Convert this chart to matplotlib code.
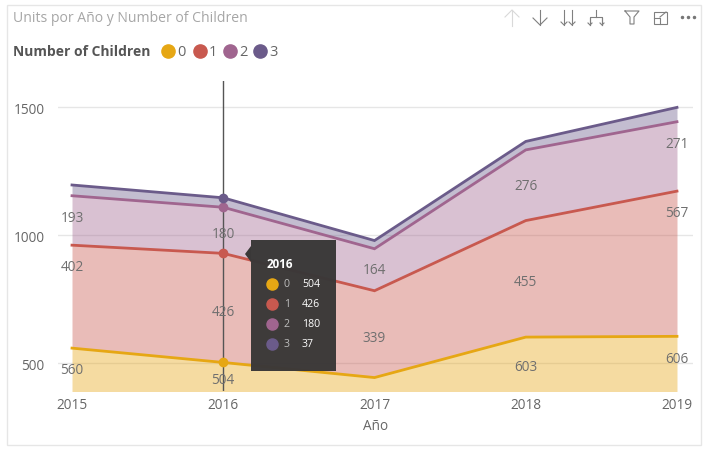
import matplotlib
matplotlib.use("Agg")
import numpy as np
import matplotlib.pyplot as plt
from matplotlib.patches import Rectangle, Polygon

plt.rcParams['font.family'] = ['Open Sans', 'DejaVu Sans']

years = [2015, 2016, 2017, 2018, 2019]
children = ['0', '1', '2', '3']
units_0 = [560, 504, 445, 603, 606]
units_1 = [402, 426, 339, 455, 567]
units_2 = [193, 180, 164, 276, 271]
units_3 = [42, 37, 32, 33, 56]
colors = ['#E6A714', '#C8594F', '#A0658F', '#6B5B8A']

# where the labels sit (not at the band centre in the original)
label_y_0 = [476, 437, None, 490, 521]
label_y_1 = [878, 703, 603, 822, 1090]
label_y_2 = [1070, 1008, 867, 1195, 1359]

W, H = 706, 452
GREY = '#666666'
fig = plt.figure(figsize=(W / 100, H / 100), dpi=100)

# plot area in pixels
left, right, top, bottom = 58, 693, 81.5, 391.5
ax = fig.add_axes([left / W, 1 - bottom / H, (right - left) / W, (bottom - top) / H])
ax.set_xlim(2015 - 14 / 151.25, 2019 + 16 / 151.25)
ax.set_ylim(394.5, 1605)
for s in ax.spines.values():
    s.set_visible(False)
ax.set_xticks(years)
ax.set_yticks([500, 1000, 1500])
ax.tick_params(length=0, labelsize=9.8, labelcolor=GREY)
ax.tick_params(axis='y', pad=9.5)
ax.tick_params(axis='x', pad=5)
ax.grid(axis='y', color='#e6e6e6', lw=1)
ax.set_axisbelow(True)
ax.set_xlabel('Año', fontsize=9.8, color=GREY, labelpad=4)

series = [units_0, units_1, units_2, units_3]
base = np.zeros(len(years))
for vals, c in zip(series, colors):
    cum = base + np.array(vals)
    ax.fill_between(years, base, cum, color=c, alpha=0.4, lw=0, zorder=1)
    base = cum
base = np.zeros(len(years))
for vals, c in zip(series, colors):
    base = base + np.array(vals)
    ax.plot(years, base, color=c, lw=2, zorder=3, solid_joinstyle='miter')
    ax.plot(years[1], base[1], 'o', color=c, ms=6, zorder=5)
ax.axvline(2016, color='#555555', lw=1, zorder=4)

for vals, ys in zip(series[:3], [label_y_0, label_y_1, label_y_2]):
    for x, v, y in zip(years, vals, ys):
        if y is not None:
            ax.text(x, y, str(v), ha='center', va='center', fontsize=9.8, color='#6f6f6f', zorder=6)

# full figure overlay in pixels: card, title, legend, toolbar, tooltip
ov = fig.add_axes([0, 0, 1, 1], facecolor='none')
ov.set_xlim(0, W)
ov.set_ylim(H, 0)
ov.axis('off')
ov.add_patch(Rectangle((6.5, 5.5), 694, 440, fill=False, ec='#e6e6e6', lw=1))
ov.text(13, 18, 'Units por Año y Number of Children', fontsize=10.1, color='#a6a6a6', va='center')
ov.text(13, 52, 'Number of Children', fontsize=10, color='#555555', va='center', fontweight='bold')
for x, name, c in zip([168, 200, 230, 260], children, colors):
    ov.plot(x, 52, 'o', color=c, ms=9.5)
    ov.text(x + 9, 52, name, fontsize=10.5, color=GREY, va='center')

# toolbar icons
def icon(xs, ys, c='#808080', lw=0.8):
    ov.plot(xs, ys, color=c, lw=lw)

def arrow_down(x, y0, y1, w=6, c='#808080'):
    icon([x, x], [y0, y1], c)
    icon([x - w, x, x + w], [y1 - w, y1, y1 - w], c)

icon([512, 512], [11, 27], '#d9d9d9')
icon([505, 512, 519], [18, 11, 18], '#d9d9d9')
arrow_down(540, 11, 26, 7)
arrow_down(564, 11, 26, 3)
arrow_down(572, 11, 26, 3)
icon([596, 596], [11, 18])
icon([590, 590, 602, 602], [26, 18, 18, 26])
arrow_down(590, 19, 26, 2)
arrow_down(602, 19, 26, 2)
icon([625, 639, 634, 634, 630, 630, 625], [12, 12, 18, 25, 25, 18, 12])
ov.add_patch(Rectangle((653.5, 12.5), 13, 12, fill=False, ec='#808080', lw=0.8))
icon([653.5, 660, 660], [19, 19, 24.5])
icon([660, 666], [18, 13])
for x in [682, 688, 694]:
    ov.plot(x, 18, 'o', color='#777777', ms=1.5)

# tooltip
TIP = '#3a3838'
ov.add_patch(Polygon([[251, 247], [245, 255], [251, 263]], color=TIP, lw=0, zorder=7))
ov.add_patch(Rectangle((251, 241), 85, 131, color=TIP, lw=0, alpha=0.98, zorder=7))
ov.text(267, 265, str(years[1]), fontsize=8.4, fontweight='bold', color='white', va='center', zorder=8)
for i, (vals, name, c) in enumerate(zip(series, children, colors)):
    y = 285 + i * 20
    ov.plot(272, y, 'o', color=c, ms=8, zorder=8)
    ov.text(284, y, name, fontsize=7.6, color='#bdbdbd', va='center', zorder=8)
    ov.text(302, y, str(vals[1]), fontsize=7.6, color='white', va='center', zorder=8)

fig.savefig('out.png', dpi=100)
